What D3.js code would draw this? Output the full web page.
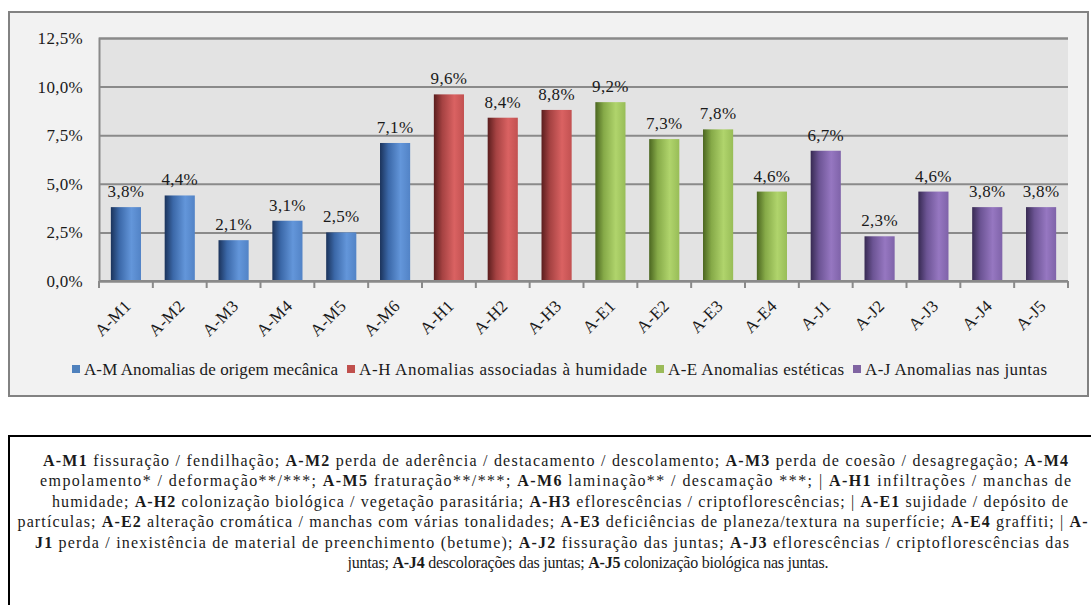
<!DOCTYPE html>
<html>
<head>
<meta charset="utf-8">
<script src="https://cdn.jsdelivr.net/npm/d3@7"></script>
<style>
  html, body { margin: 0; padding: 0; background: #ffffff; }
  svg { display: block; }
  svg text { font-family: "Liberation Serif", "Times New Roman", Times, serif; fill: #1a1a1a; }
</style>
</head>
<body>
<svg id="chart" width="1091" height="605"></svg>
<script>
// Anomaly codes and their share of occurrences (%)
const categories = ["A-M1","A-M2","A-M3","A-M4","A-M5","A-M6","A-H1","A-H2","A-H3","A-E1","A-E2","A-E3","A-E4","A-J1","A-J2","A-J3","A-J4","A-J5"];
const values = [3.8, 4.4, 2.1, 3.1, 2.5, 7.1, 9.6, 8.4, 8.8, 9.2, 7.3, 7.8, 4.6, 6.7, 2.3, 4.6, 3.8, 3.8];
const groupOf = ["M","M","M","M","M","M","H","H","H","E","E","E","E","J","J","J","J","J"];

// Legend groups
const groupKeys = ["M","H","E","J"];
const groupLabels = ["A-M Anomalias de origem mecânica", "A-H Anomalias associadas à humidade", "A-E Anomalias estéticas", "A-J Anomalias nas juntas"];

// Y axis ticks (%)
const yTicks = [0, 2.5, 5, 7.5, 10, 12.5];

// Caption lines below the chart: [bold, text] segments
const captionLines = [
  [[true,"A-M1"],[false," fissuração / fendilhação; "],[true,"A-M2"],[false," perda de aderência / destacamento / descolamento; "],[true,"A-M3"],[false," perda de coesão / desagregação; "],[true,"A-M4"]],
  [[false,"empolamento* / deformação**/***; "],[true,"A-M5"],[false," fraturação**/***; "],[true,"A-M6"],[false," laminação** / descamação ***; | "],[true,"A-H1"],[false," infiltrações / manchas de"]],
  [[false,"humidade; "],[true,"A-H2"],[false," colonização biológica / vegetação parasitária; "],[true,"A-H3"],[false," eflorescências / criptoflorescências; | "],[true,"A-E1"],[false," sujidade / depósito de"]],
  [[false,"partículas; "],[true,"A-E2"],[false," alteração cromática / manchas com várias tonalidades; "],[true,"A-E3"],[false," deficiências de planeza/textura na superfície; "],[true,"A-E4"],[false," graffiti; | "],[true,"A-"]],
  [[true,"J1"],[false," perda / inexistência de material de preenchimento (betume); "],[true,"A-J2"],[false," fissuração das juntas; "],[true,"A-J3"],[false," eflorescências / criptoflorescências das"]],
  [[false,"juntas; "],[true,"A-J4"],[false," descolorações das juntas; "],[true,"A-J5"],[false," colonização biológica nas juntas."]]
];

const FONT = "'Liberation Serif', 'Times New Roman', Times, serif";

const svg = d3.select("#chart");
const defs = svg.append("defs");

// Cylinder-like shading per group
const shades = {
  M: ["#1b335b", "#3b68a8", "#6396da", "#5283c6"],
  H: ["#5a1d1d", "#a54242", "#da6262", "#c25151"],
  E: ["#4b6620", "#86aa48", "#b0d46c", "#98bd57"],
  J: ["#372a52", "#6c5494", "#9677c1", "#7f63a9"]
};
groupKeys.forEach(k => {
  const g = defs.append("linearGradient").attr("id", "grad-" + k)
    .attr("x1", "0").attr("x2", "1").attr("y1", "0").attr("y2", "0");
  const s = shades[k];
  [[0, s[0]], [0.28, s[1]], [0.68, s[2]], [1, s[3]]].forEach(([o, c]) =>
    g.append("stop").attr("offset", o).attr("stop-color", c));
});
const legendColor = { M: "#4f81bd", H: "#c0504d", E: "#9bbb59", J: "#8064a2" };

// Chart frame
svg.append("rect").attr("x", 9).attr("y", 12).attr("width", 1079).attr("height", 384)
  .attr("fill", "#f2f2f2").attr("stroke", "#828282").attr("stroke-width", 2);

const plotL = 99, plotR = 1068, plotT = 38, plotB = 281;
svg.append("rect").attr("x", plotL).attr("y", plotT).attr("width", plotR - plotL).attr("height", plotB - plotT)
  .attr("fill", "#e3e3e3");

const x = d3.scaleBand().domain(categories).range([plotL, plotR]).paddingInner(0.44).paddingOuter(0.22);
const y = d3.scaleLinear().domain([0, 12.5]).range([plotB, plotT]);

const locale = d3.formatLocale({ decimal: ",", thousands: ".", grouping: [3], currency: ["", "€"] });
const pct = v => locale.format(".1%")(v / 100);

// Y axis with gridlines
const yAxis = svg.append("g").attr("transform", `translate(${plotL},0)`)
  .call(d3.axisLeft(y).tickValues(yTicks).tickFormat(pct).tickSize(-(plotR - plotL)).tickPadding(16));
yAxis.attr("font-family", null);
yAxis.select(".domain").attr("stroke", "#8a8a8a").attr("stroke-width", 2);
yAxis.selectAll(".tick line").attr("stroke", "#8a8a8a").attr("stroke-width", 2);
yAxis.selectAll(".tick text").attr("font-size", 17).attr("fill", "#1a1a1a")
  .style("font-family", FONT).attr("letter-spacing", 0.3);

// Bars
svg.append("g").selectAll("rect").data(categories).join("rect")
  .attr("x", d => x(d)).attr("width", x.bandwidth())
  .attr("y", (d, i) => y(values[i])).attr("height", (d, i) => y(0) - y(values[i]))
  .attr("fill", (d, i) => `url(#grad-${groupOf[i]})`);

// Value labels
svg.append("g").selectAll("text").data(categories).join("text")
  .attr("x", d => x(d) + x.bandwidth() / 2).attr("y", (d, i) => y(values[i]) - 10)
  .attr("text-anchor", "middle").attr("font-size", 17).attr("letter-spacing", 0.3)
  .style("font-family", FONT)
  .text((d, i) => pct(values[i]));

// X axis: baseline, boundary ticks, rotated labels
const step = x.step();
const xg = svg.append("g");
xg.append("line").attr("x1", plotL).attr("x2", plotR).attr("y1", plotB).attr("y2", plotB)
  .attr("stroke", "#8a8a8a").attr("stroke-width", 2);
xg.selectAll("line.tk").data(d3.range(categories.length + 1)).join("line").attr("class", "tk")
  .attr("x1", i => plotL + i * step).attr("x2", i => plotL + i * step)
  .attr("y1", plotB).attr("y2", plotB + 7).attr("stroke", "#8a8a8a").attr("stroke-width", 2);
xg.selectAll("text").data(categories).join("text")
  .attr("transform", d => `translate(${x(d) + x.bandwidth() / 2 + 6},${plotB + 26}) rotate(-45)`)
  .attr("text-anchor", "end").attr("font-size", 17).attr("letter-spacing", 0.3)
  .style("font-family", FONT)
  .text(d => d);

// Legend: swatch + label, laid out left to right
const legendTextWidths = [254, 288, 176, 182];
const lg = svg.append("g");
let lx = 72;
groupKeys.forEach((k, i) => {
  lg.append("rect").attr("x", lx).attr("y", 365).attr("width", 8).attr("height", 8).attr("fill", legendColor[k]);
  lg.append("text").attr("x", lx + 12).attr("y", 375).attr("font-size", 17)
    .style("font-family", FONT)
    .attr("textLength", legendTextWidths[i]).attr("lengthAdjust", "spacing")
    .text(groupLabels[i]);
  lx += 12 + legendTextWidths[i] + 9;
});

// Caption box
svg.append("rect").attr("x", 9).attr("y", 436).attr("width", 1200).attr("height", 300)
  .attr("fill", "#ffffff").attr("stroke", "#000000").attr("stroke-width", 2);

const captionLayout = [
  { cx: 555.5, w: 1025 }, { cx: 555.5, w: 1031 }, { cx: 560, w: 1016 },
  { cx: 552.5, w: 1070 }, { cx: 552, w: 1034 }, { cx: 588, w: 481 }
];
captionLines.forEach((segs, i) => {
  const t = svg.append("text")
    .attr("x", captionLayout[i].cx).attr("y", 466 + i * 20.4)
    .attr("text-anchor", "middle").attr("font-size", 16)
    .style("font-family", FONT)
    .attr("textLength", captionLayout[i].w).attr("lengthAdjust", "spacing");
  segs.forEach(([b, s]) => {
    t.append("tspan").attr("font-weight", b ? "bold" : "normal").text(s);
  });
});
</script>
</body>
</html>
